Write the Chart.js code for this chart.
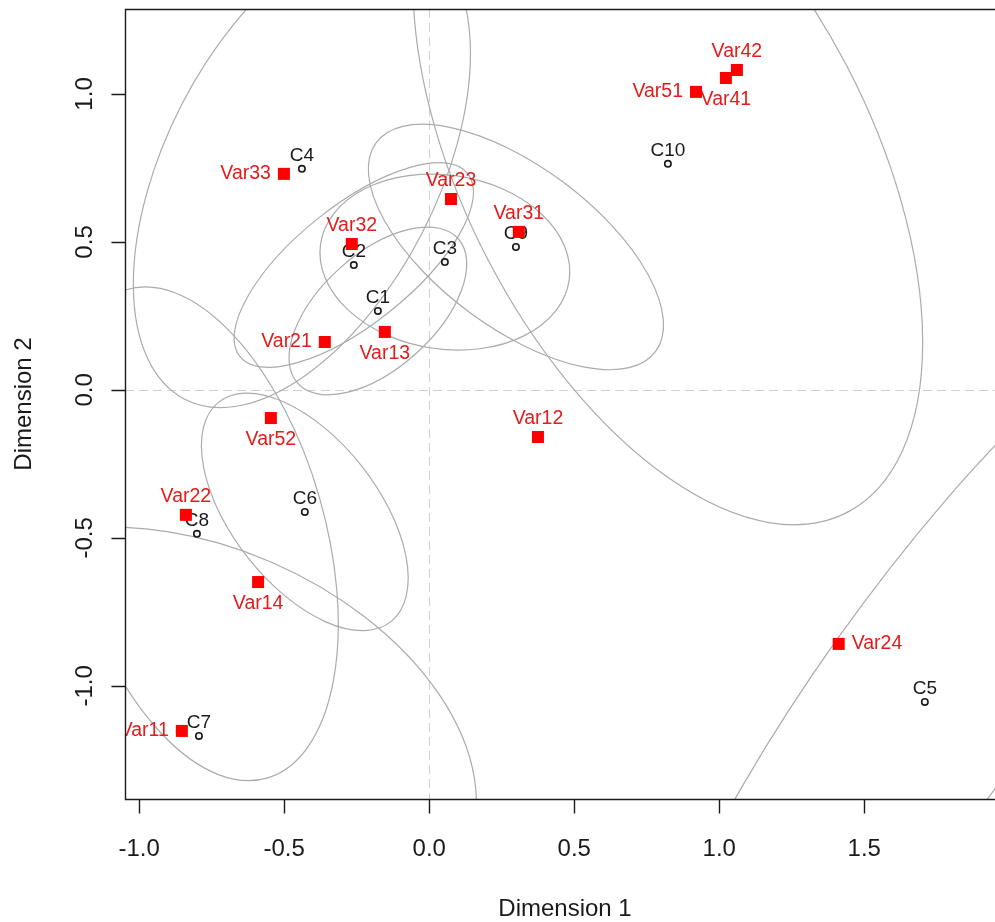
<!DOCTYPE html>
<html>
<head>
<meta charset="UTF-8">
<title>Dimension 1 / Dimension 2</title>
<script src="https://cdn.jsdelivr.net/npm/chart.js@4.4.0/dist/chart.umd.min.js"></script>
<style>
  html, body { margin: 0; padding: 0; background: #fff; overflow: hidden; }
  canvas { display: block; }
</style>
</head>
<body>
<canvas id="map" width="995" height="922"></canvas>
<script>
// category points (red squares)
const CAT_NAMES = ['Var11', 'Var12', 'Var13', 'Var14', 'Var21', 'Var22', 'Var23', 'Var24',
                   'Var31', 'Var32', 'Var33', 'Var41', 'Var42', 'Var51', 'Var52'];
const CAT_X = [-0.853, 0.375, -0.153, -0.590, -0.360, -0.839, 0.075, 1.412,
               0.309, -0.267, -0.501, 1.023, 1.061, 0.920, -0.546];
const CAT_Y = [-1.152, -0.159, 0.196, -0.649, 0.162, -0.422, 0.645, -0.858,
               0.534, 0.493, 0.730, 1.054, 1.081, 1.007, -0.095];

// C points (open circles), each with its ellipse
const IND_NAMES = ['C1', 'C2', 'C3', 'C4', 'C5', 'C6', 'C7', 'C8', 'C9', 'C10'];
const IND_X = [-0.177, -0.260, 0.054, -0.439, 1.709, -0.429, -0.794, -0.801, 0.299, 0.823];
const IND_Y = [0.267, 0.422, 0.432, 0.747, -1.054, -0.412, -1.169, -0.486, 0.483, 0.764];

// ellipse semi-axes (axis units) and tilt (degrees), same order as IND_NAMES
const ELL_A = [0.369, 0.500, 0.433, 0.877, 1.590, 0.475, 1.003, 0.860, 0.597, 1.330];
const ELL_B = [0.195, 0.200, 0.294, 0.468, 0.369, 0.250, 0.638, 0.440, 0.273, 0.700];
const ELL_TILT = [41, 38, -8, 62.3, 54, -51, -22.9, -73.5, -36, -62];

const X_TICKS = [-1.0, -0.5, 0.0, 0.5, 1.0, 1.5];
const Y_TICKS = [-1.0, -0.5, 0.0, 0.5, 1.0];
const X_RANGE = [-1.049, 1.951];
const Y_RANGE = [-1.382, 1.287];
const X_TITLE = 'Dimension 1';
const Y_TITLE = 'Dimension 2';

// where each category label sits relative to its square
const CAT_SIDE = {
  Var11: 'left', Var12: 'above', Var13: 'below', Var14: 'below', Var21: 'left',
  Var22: 'above', Var23: 'above', Var24: 'right', Var31: 'above', Var32: 'above',
  Var33: 'left', Var41: 'below', Var42: 'above', Var51: 'left', Var52: 'below'
};

const FONT = '"Liberation Sans", Arial, sans-serif';
const INK = '#1a1a1a';

function clipToArea(ctx, a) {
  ctx.beginPath();
  ctx.rect(a.left, a.top, a.right - a.left, a.bottom - a.top);
  ctx.clip();
}

const decor = {
  id: 'decor',
  beforeDatasetsDraw(chart) {
    const { ctx, chartArea: a, scales: { x, y } } = chart;
    ctx.save();
    clipToArea(ctx, a);

    // dashed zero lines
    const x0 = Math.round(x.getPixelForValue(0)) + 0.5;
    const y0 = Math.round(y.getPixelForValue(0)) + 0.5;
    ctx.strokeStyle = '#d0d0d0';
    ctx.lineWidth = 1;
    ctx.setLineDash([9, 5]);
    ctx.beginPath();
    ctx.moveTo(x0, a.top); ctx.lineTo(x0, a.bottom);
    ctx.moveTo(a.left, y0); ctx.lineTo(a.right, y0);
    ctx.stroke();
    ctx.setLineDash([]);

    // ellipses, built in axis units through the scales
    const sx = x.getPixelForValue(1) - x.getPixelForValue(0);
    const sy = y.getPixelForValue(0) - y.getPixelForValue(1);
    ctx.strokeStyle = '#ababab';
    ctx.lineWidth = 1.2;
    IND_X.forEach((cx, i) => {
      ctx.save();
      ctx.translate(x.getPixelForValue(cx), y.getPixelForValue(IND_Y[i]));
      ctx.scale(sx, -sy);
      ctx.rotate(ELL_TILT[i] * Math.PI / 180);
      ctx.beginPath();
      ctx.ellipse(0, 0, ELL_A[i], ELL_B[i], 0, 0, 2 * Math.PI);
      ctx.restore();
      ctx.stroke();
    });

    // C labels (under the markers)
    ctx.fillStyle = INK;
    ctx.font = '19px ' + FONT;
    ctx.textAlign = 'center';
    ctx.textBaseline = 'middle';
    chart.getDatasetMeta(1).data.forEach((pt, i) => ctx.fillText(IND_NAMES[i], pt.x, pt.y - 13));
    ctx.restore();
  },
  afterDatasetsDraw(chart) {
    const { ctx, chartArea: a } = chart;
    ctx.save();
    clipToArea(ctx, a);
    ctx.fillStyle = '#e31c1c';
    ctx.font = '19.5px ' + FONT;
    ctx.textBaseline = 'middle';
    chart.getDatasetMeta(0).data.forEach((pt, i) => {
      const name = CAT_NAMES[i];
      const side = CAT_SIDE[name];
      if (side === 'left') { ctx.textAlign = 'right'; ctx.fillText(name, pt.x - 13, pt.y); }
      else if (side === 'right') { ctx.textAlign = 'left'; ctx.fillText(name, pt.x + 13, pt.y); }
      else if (side === 'below') { ctx.textAlign = 'center'; ctx.fillText(name, pt.x, pt.y + 22); }
      else { ctx.textAlign = 'center'; ctx.fillText(name, pt.x, pt.y - 18); }
    });
    ctx.restore();
  },
  afterDraw(chart) {
    const { ctx, chartArea: a, scales: { x, y } } = chart;
    const L = Math.round(a.left) + 0.5;
    const T = Math.round(a.top) + 0.5;
    const B = Math.round(a.bottom) + 0.5;
    ctx.save();
    ctx.strokeStyle = INK;
    ctx.lineWidth = 1.4;
    ctx.beginPath();
    ctx.moveTo(a.right, T); ctx.lineTo(L, T); ctx.lineTo(L, B); ctx.lineTo(a.right, B);
    // tick marks
    X_TICKS.forEach(v => {
      const px = Math.round(x.getPixelForValue(v)) + 0.5;
      ctx.moveTo(px, B); ctx.lineTo(px, B + 14);
    });
    Y_TICKS.forEach(v => {
      const py = Math.round(y.getPixelForValue(v)) + 0.5;
      ctx.moveTo(L, py); ctx.lineTo(L - 14, py);
    });
    ctx.stroke();

    // tick labels
    ctx.fillStyle = INK;
    ctx.font = '24px ' + FONT;
    ctx.textAlign = 'center';
    ctx.textBaseline = 'middle';
    X_TICKS.forEach(v => ctx.fillText(v.toFixed(1), x.getPixelForValue(v), 849));
    Y_TICKS.forEach(v => {
      ctx.save();
      ctx.translate(85, y.getPixelForValue(v));
      ctx.rotate(-Math.PI / 2);
      ctx.fillText(v.toFixed(1), 0, 0);
      ctx.restore();
    });
    // x title: the original plot box ran a little past the right edge of the picture
    ctx.fillText(X_TITLE, 565, 909);
    ctx.restore();
  }
};

new Chart(document.getElementById('map'), {
  type: 'scatter',
  data: {
    datasets: [
      {
        label: 'categories',
        data: CAT_X.map((v, i) => ({ x: v, y: CAT_Y[i] })),
        pointStyle: 'rect',
        pointRadius: 8.5,
        backgroundColor: '#ff0000',
        borderWidth: 0
      },
      {
        label: 'C',
        data: IND_X.map((v, i) => ({ x: v, y: IND_Y[i] })),
        pointStyle: 'circle',
        pointRadius: 3.2,
        backgroundColor: '#f4f4f4',
        borderColor: INK,
        borderWidth: 1.6
      }
    ]
  },
  options: {
    responsive: false,
    animation: false,
    devicePixelRatio: 1,
    events: [],
    // no extra room for point overflow: the plot box runs to the right edge
    layout: { autoPadding: false, padding: { top: 9, right: 0, bottom: 0, left: 0 } },
    plugins: { legend: { display: false }, tooltip: { enabled: false } },
    scales: {
      x: {
        type: 'linear',
        min: X_RANGE[0],
        max: X_RANGE[1],
        grid: { display: false },
        border: { display: false },
        ticks: { display: false },
        title: { display: false },
        afterFit(scale) { scale.height = 123; }
      },
      y: {
        type: 'linear',
        min: Y_RANGE[0],
        max: Y_RANGE[1],
        grid: { display: false },
        border: { display: false },
        ticks: { display: false },
        title: {
          display: true,
          text: Y_TITLE,
          color: INK,
          font: { size: 24, family: FONT, lineHeight: 1.1 },
          padding: { top: 11.5, bottom: 0 }
        },
        afterFit(scale) { scale.width = 125; }
      }
    }
  },
  plugins: [decor]
});
</script>
</body>
</html>
